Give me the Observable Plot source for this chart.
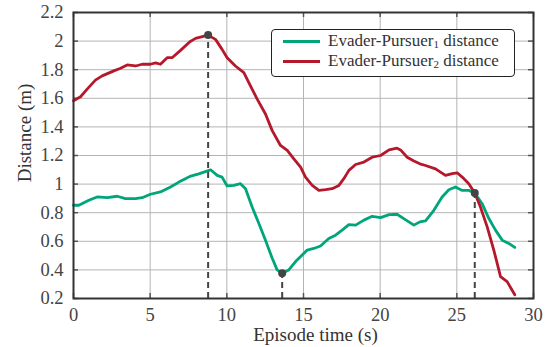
<!DOCTYPE html>
<html>
<head>
<meta charset="utf-8">
<script src="https://cdn.jsdelivr.net/npm/d3@7"></script>
<script src="https://cdn.jsdelivr.net/npm/@observablehq/plot@0.6"></script>
<style>
  body { margin: 0; background: #fff; }
  #wrap { position: relative; width: 553px; height: 347px; font-family: "Liberation Serif", "Times New Roman", serif; }
  #legend { position: absolute; left: 271px; top: 29px; width: 244px; height: 48px; border: 1.5px solid #222; border-radius: 4px; background: #fff; box-sizing: border-box; }
  .row { position: absolute; left: 11px; height: 20px; line-height: 20px; display: flex; align-items: center; font-size: 17px; color: #333; white-space: nowrap; }
  .sw { width: 37px; height: 3px; margin-right: 8px; }
  sub { font-size: 11px; vertical-align: baseline; position: relative; top: 3px; line-height: 0; }
</style>
</head>
<body>
<div id="wrap">
  <div id="chart"></div>
  <div id="legend">
    <div class="row" style="top:1px"><span class="sw" style="background:#00a57a"></span>Evader-Pursuer<sub>1</sub>&nbsp;distance</div>
    <div class="row" style="top:21px"><span class="sw" style="background:#b5182b"></span>Evader-Pursuer<sub>2</sub>&nbsp;distance</div>
  </div>
</div>
<script>
// Evader-Pursuer1 distance (green)
const t1 = [0, 0.35, 1.0, 1.54, 2.2, 2.85, 3.39, 4.04, 4.48, 5.02, 5.67, 6.33, 6.87, 7.3, 7.59, 8.17, 8.94, 9.37, 9.69, 10.02, 10.46, 10.89, 11.22, 11.65, 12.09, 12.52, 12.96, 13.28, 13.61, 14.04, 14.48, 14.8, 15.24, 15.67, 16.11, 16.65, 17.09, 17.52, 17.96, 18.4, 18.94, 19.48, 20.03, 20.58, 21.1, 21.54, 21.87, 22.2, 22.59, 22.96, 23.5, 24.04, 24.48, 24.91, 25.35, 25.78, 26.17, 26.65, 27.09, 27.52, 27.96, 28.39, 28.78];
const d1 = [0.852, 0.852, 0.887, 0.91, 0.905, 0.915, 0.898, 0.898, 0.905, 0.929, 0.945, 0.98, 1.014, 1.038, 1.054, 1.072, 1.1, 1.061, 1.049, 0.987, 0.991, 1.003, 0.968, 0.84, 0.724, 0.608, 0.481, 0.4, 0.376, 0.4, 0.458, 0.492, 0.539, 0.55, 0.567, 0.62, 0.643, 0.678, 0.717, 0.713, 0.748, 0.775, 0.766, 0.787, 0.789, 0.759, 0.736, 0.713, 0.736, 0.743, 0.817, 0.91, 0.961, 0.98, 0.956, 0.956, 0.938, 0.863, 0.759, 0.678, 0.608, 0.585, 0.557];
// Evader-Pursuer2 distance (red)
const t2 = [0, 0.46, 0.89, 1.43, 1.87, 2.63, 3.07, 3.5, 4.04, 4.48, 5.02, 5.35, 5.67, 6.11, 6.43, 6.98, 7.59, 7.96, 8.78, 9.26, 9.69, 10.02, 10.56, 11.11, 11.54, 11.98, 12.52, 12.96, 13.5, 13.94, 14.37, 14.81, 15.13, 15.57, 16.0, 16.44, 16.87, 17.31, 17.63, 17.96, 18.4, 18.94, 19.48, 20.03, 20.58, 21.1, 21.33, 21.76, 22.2, 22.59, 22.96, 23.61, 24.26, 24.7, 25.02, 25.35, 25.78, 26.17, 26.54, 26.98, 27.41, 27.85, 28.28, 28.78];
const d2 = [1.583, 1.611, 1.664, 1.727, 1.757, 1.792, 1.81, 1.833, 1.826, 1.838, 1.838, 1.847, 1.838, 1.884, 1.884, 1.935, 1.996, 2.019, 2.042, 2.012, 1.942, 1.884, 1.826, 1.78, 1.687, 1.594, 1.49, 1.374, 1.27, 1.235, 1.177, 1.119, 1.049, 0.991, 0.956, 0.961, 0.968, 0.991, 1.038, 1.096, 1.137, 1.154, 1.188, 1.2, 1.239, 1.251, 1.239, 1.188, 1.161, 1.142, 1.13, 1.107, 1.061, 1.073, 1.079, 1.049, 1.003, 0.938, 0.84, 0.701, 0.539, 0.353, 0.318, 0.226];
// Highlighted points
const markT = [8.78, 13.61, 26.17];
const markV = [2.042, 0.376, 0.938];
// Ticks
const xTicks = [0, 5, 10, 15, 20, 25, 30];
const yTicks = [0.2, 0.4, 0.6, 0.8, 1, 1.2, 1.4, 1.6, 1.8, 2, 2.2];

const s1 = t1.map((t, i) => ({t, d: d1[i]}));
const s2 = t2.map((t, i) => ({t, d: d2[i]}));
const marks = markT.map((t, i) => ({t, v: markV[i]}));

const W = 553, H = 347, mL = 73, mR = 20, mT = 12, mB = 49;
const pw = W - mL - mR, ph = H - mT - mB, tl = 5;

const chart = Plot.plot({
  width: W, height: H,
  marginLeft: mL, marginRight: mR, marginTop: mT, marginBottom: mB,
  style: {fontFamily: "'Liberation Serif', 'Times New Roman', serif", background: "#fff", overflow: "visible"},
  x: {domain: [0, 30], ticks: xTicks},
  y: {domain: [0.2, 2.2], ticks: yTicks},
  marks: [
    Plot.gridX(xTicks, {stroke: "#b4b4b4", strokeOpacity: 1, strokeWidth: 1}),
    Plot.gridY(yTicks, {stroke: "#b4b4b4", strokeOpacity: 1, strokeWidth: 1}),
    Plot.tickX(xTicks, {x: d => d, insetTop: ph - tl, stroke: "#555", strokeWidth: 1.5}),
    Plot.tickX(xTicks, {x: d => d, insetBottom: ph - tl, stroke: "#555", strokeWidth: 1.5}),
    Plot.tickY(yTicks, {y: d => d, insetRight: pw - tl, stroke: "#555", strokeWidth: 1.5}),
    Plot.tickY(yTicks, {y: d => d, insetLeft: pw - tl, stroke: "#555", strokeWidth: 1.5}),
    Plot.axisX(xTicks, {tickSize: 0, tickPadding: 9, fontSize: 18.5, fill: "#444", label: null, tickFormat: d3.format("")}),
    Plot.axisY(yTicks, {tickSize: 0, tickPadding: 10, fontSize: 18.5, fill: "#444", label: null, tickFormat: d => String(+d.toFixed(1))}),
    Plot.ruleX(marks, {x: "t", y1: 0.2, y2: "v", stroke: "#444", strokeWidth: 2, strokeDasharray: "6,4"}),
    Plot.line(s1, {x: "t", y: "d", stroke: "#00a57a", strokeWidth: 2.8, curve: "linear"}),
    Plot.line(s2, {x: "t", y: "d", stroke: "#b5182b", strokeWidth: 2.8, curve: "linear"}),
    Plot.dot(marks, {x: "t", y: "v", r: 4, fill: "#444", stroke: "none"}),
    Plot.frame({stroke: "#333", strokeWidth: 2}),
    Plot.text(["Episode time (s)"], {frameAnchor: "bottom", lineAnchor: "middle", textAnchor: "middle", dx: 12, dy: 36.5, fontSize: 19, fill: "#333", text: d => d}),
    Plot.text(["Distance (m)"], {frameAnchor: "left", lineAnchor: "middle", textAnchor: "middle", dx: -49, dy: -22.5, rotate: -90, fontSize: 19, fill: "#333", text: d => d})
  ]
});
document.getElementById("chart").appendChild(chart);
</script>
</body>
</html>
